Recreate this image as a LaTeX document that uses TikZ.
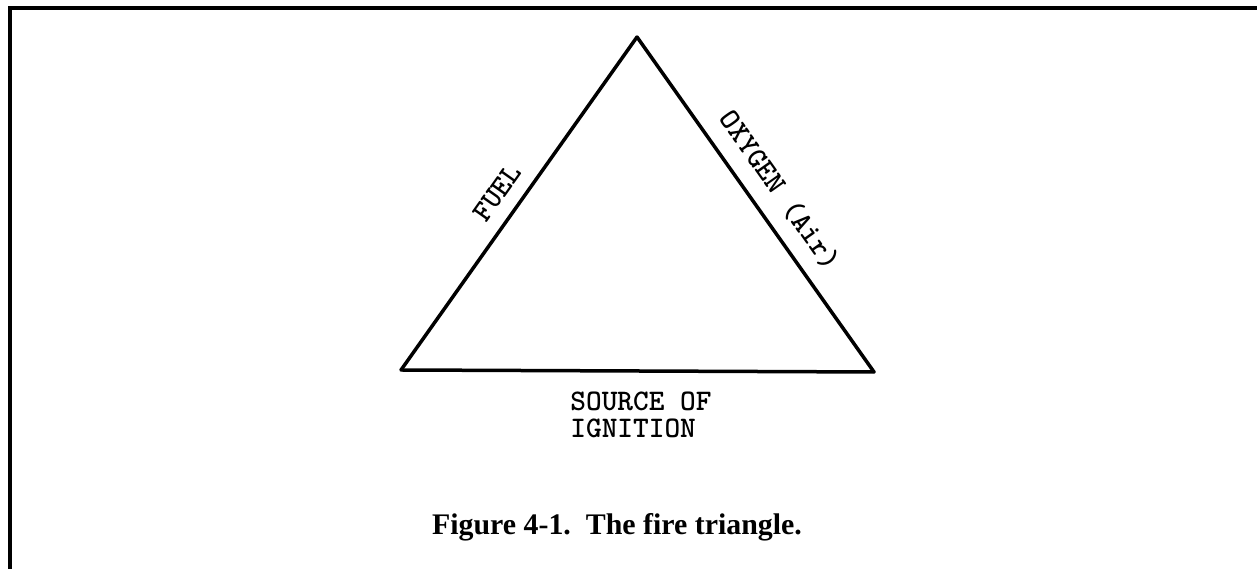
\documentclass[tikz,border=0pt]{standalone}
\usepackage{fontspec}
\setmainfont{Liberation Serif}
\usepackage{tikz}
\usetikzlibrary{positioning, calc}

\begin{document}
\begin{tikzpicture}[
    frame/.style={line width=0.08cm},
    side/.style={line width=0.07cm, line cap=round, line join=round},
    sidetext/.style={font=\ttfamily\bfseries\fontsize{17}{15.4}\selectfont, inner sep=0pt},
    caption/.style={font=\bfseries\fontsize{17}{20}\selectfont, inner sep=0pt}
]
\useasboundingbox (0,0) rectangle (25.14,11.38);

% Frame
\draw[frame] (0.2,0) -- (0.2,11.22) -- (25.3,11.22);

% Corners of the triangle
\coordinate (top) at (12.74,10.64);
\coordinate (botleft) at (8.02,3.98);
\coordinate (botright) at (17.48,3.94);

% Sides
\draw[side] (botleft) -- (top) node[sidetext, pos=0.49, sloped, yshift=0.48cm] (fuel) {FUEL};
\draw[side] (top) -- (botright) node[sidetext, pos=0.506, sloped, yshift=0.566cm] (oxygen) {OXYGEN (Air)};
\draw[side] (botright) -- (botleft);

% Base label
\node[sidetext, align=left, anchor=north] (ignition) at ($(botleft)!0.5!(botright)+(0.07,-0.42)$) {SOURCE OF\\IGNITION};

% Caption
\node[caption, anchor=base] (title) at (12.34,0.68) {Figure 4-1.\ \ The fire triangle.};
\end{tikzpicture}
\end{document}
